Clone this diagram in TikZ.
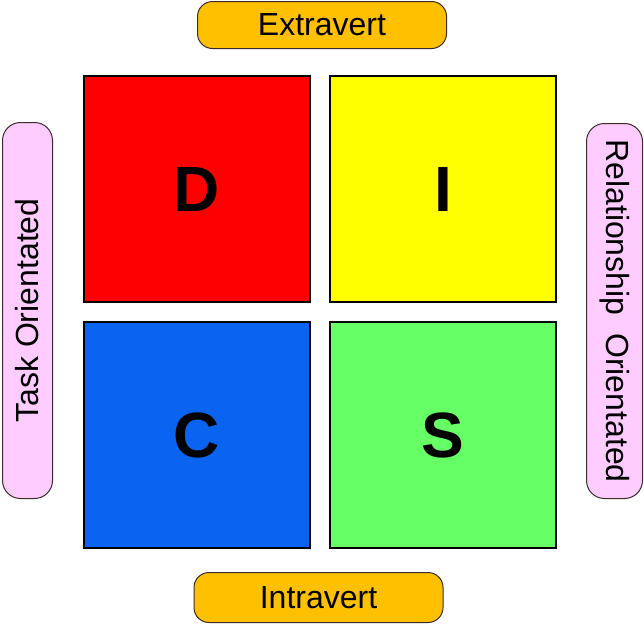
\documentclass[tikz,border=0pt]{standalone}
\usepackage{fontspec}
\setmainfont{Liberation Sans}
\usetikzlibrary{positioning}
\definecolor{discD}{HTML}{FF0000}
\definecolor{discI}{HTML}{FFFF00}
\definecolor{discC}{HTML}{0A64F0}
\definecolor{discS}{HTML}{66FF66}
\definecolor{pillorange}{HTML}{FFC000}
\definecolor{pillpink}{HTML}{FFCCFF}
\definecolor{pilledge}{HTML}{3A2A2A}
\tikzset{quad/.style={draw=black,line width=2pt,minimum width=226pt,minimum height=226pt,inner sep=0pt,font=\fontsize{64}{64}\selectfont\bfseries},
pill/.style={draw=pilledge,line width=1pt,rounded corners=15pt,inner sep=0pt,font=\fontsize{32}{32}\selectfont}}

\begin{document}
\begin{tikzpicture}[x=1pt,y=-1pt,node distance=18pt]
\useasboundingbox(0,0)rectangle(644,625);
% the four quadrants
\node[quad,fill=discD](d)at(197,189){D};
\node[quad,fill=discI,right=of d](i){I};
\node[quad,fill=discC,below=of d](c){C};
\node[quad,fill=discS,right=of c](s){S};
% axis labels
\node[pill,fill=pillorange,minimum width=249pt,minimum height=47pt](ext)at(322,25){Extravert};
\node[pill,fill=pillorange,minimum width=249pt,minimum height=50pt](int)at(318.5,597.5){Intravert};
\node[pill,fill=pillpink,rotate=90,rounded corners=18pt,minimum width=376pt,minimum height=50pt](task)at(27.5,310.5){Task Orientated};
\node[pill,fill=pillpink,rotate=-90,rounded corners=18pt,minimum width=375pt,minimum height=56pt](rel)at(614.5,311){Relationship\ \ Orientated};
\end{tikzpicture}
\end{document}
